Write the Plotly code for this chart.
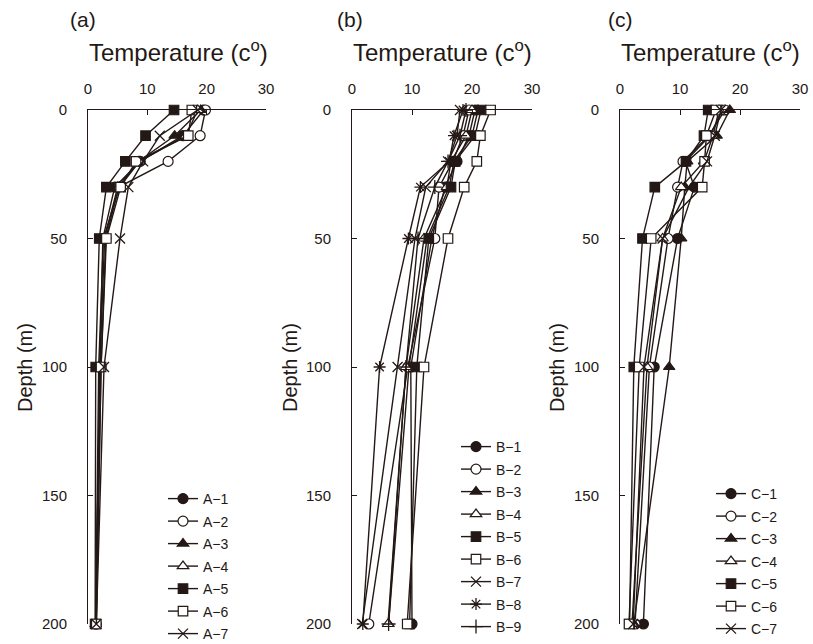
import plotly.graph_objects as go

# Sampling depths (m), shared by every station profile
depths = [0, 10, 20, 30, 50, 100, 200]

# Area (a): water temperature (°C) at each depth
a_names = ["A−1", "A−2", "A−3", "A−4", "A−5", "A−6", "A−7"]
a_1 = [19.5, 16.0, 8.8, 4.5, 2.5, 2.0, 1.3]
a_2 = [19.8, 18.9, 13.5, 5.2, 3.0, 2.2, 1.4]
a_3 = [19.0, 14.6, 8.5, 5.0, 2.8, 2.0, 1.3]
a_4 = [18.5, 16.5, 8.7, 5.3, 2.6, 1.8, 1.3]
a_5 = [14.5, 9.7, 6.3, 3.1, 1.9, 1.3, 1.2]
a_6 = [17.5, 16.9, 8.1, 5.5, 3.1, 2.2, 1.4]
a_7 = [18.5, 12.1, 9.3, 6.8, 5.4, 2.7, 1.4]

# Area (b)
b_names = ["B−1", "B−2", "B−3", "B−4", "B−5", "B−6", "B−7", "B−8", "B−9"]
b_1 = [20.5, 19.5, 17.5, 15.5, 13.3, 9.8, 10.0]
b_2 = [19.5, 18.5, 16.8, 14.5, 13.8, 9.3, 2.8]
b_3 = [21.0, 20.0, 17.0, 16.2, 12.5, 9.5, 6.1]
b_4 = [20.0, 19.0, 16.5, 15.8, 12.0, 9.0, 6.0]
b_5 = [21.5, 20.5, 17.2, 16.5, 12.8, 10.8, 9.6]
b_6 = [23.1, 21.4, 20.8, 18.7, 16.0, 12.0, 9.2]
b_7 = [18.0, 17.5, 16.0, 12.3, 10.5, 7.6, 1.7]
b_8 = [18.5, 17.0, 16.2, 11.4, 9.4, 4.6, 1.8]
b_9 = [19.0, 18.0, 16.0, 13.8, 11.0, 9.0, 6.1]

# Area (c)
c_names = ["C−1", "C−2", "C−3", "C−4", "C−5", "C−6", "C−7"]
c_1 = [17.0, 15.0, 10.9, 12.4, 9.6, 5.7, 3.9]
c_2 = [17.5, 14.8, 10.5, 9.6, 8.0, 4.9, 2.5]
c_3 = [18.3, 16.1, 11.2, 10.8, 10.2, 8.2, 2.3]
c_4 = [16.5, 15.5, 14.0, 10.2, 7.1, 4.5, 2.0]
c_5 = [14.7, 14.0, 11.0, 5.8, 3.75, 2.3, 1.6]
c_6 = [16.0, 14.4, 14.1, 13.7, 5.2, 3.2, 1.5]
c_7 = [16.8, 15.8, 14.5, 11.5, 7.1, 4.0, 2.2]

INK = "#231815"
FONT = "Liberation Sans, Arial, sans-serif"

# marker style per station index: (symbol, filled)
styles = [
    ("circle", True),
    ("circle", False),
    ("triangle-up", True),
    ("triangle-up", False),
    ("square", True),
    ("square", False),
    ("x-thin-open", None),
    ("asterisk-open", None),
    ("cross-thin-open", None),
]

panels = [
    (a_names, [a_1, a_2, a_3, a_4, a_5, a_6, a_7], "x", "y", "legend"),
    (b_names, [b_1, b_2, b_3, b_4, b_5, b_6, b_7, b_8, b_9], "x2", "y2", "legend2"),
    (c_names, [c_1, c_2, c_3, c_4, c_5, c_6, c_7], "x3", "y3", "legend3"),
]

fig = go.Figure()
for names, series, xa, ya, lg in panels:
    for i, (name, temps) in enumerate(zip(names, series)):
        sym, filled = styles[i]
        if filled is None:
            marker = dict(symbol=sym, size=10, color=INK, line=dict(color=INK, width=1.3))
        else:
            marker = dict(symbol=sym, size=9.5 if "square" in sym else 10,
                          color=INK if filled else "white",
                          line=dict(color=INK, width=1.2))
        fig.add_trace(go.Scatter(
            x=temps, y=depths, name=name, mode="lines+markers",
            line=dict(color=INK, width=1.4), marker=marker,
            xaxis=xa, yaxis=ya, legend=lg, legendgroup=name,
            cliponaxis=False,
        ))

W, H = 813, 644
x_domains = [(88, 266), (352, 532), (620, 800)]
y_domain = [1 - 624 / H, 1 - 110 / H]

axis_common = dict(
    showline=True, linecolor=INK, linewidth=1, showgrid=False, zeroline=False,
    ticks="inside", ticklen=5, tickcolor=INK, tickwidth=1,
    tickfont=dict(family=FONT, size=15, color=INK),
)

layout = dict(
    width=W, height=H,
    margin=dict(l=0, r=0, t=0, b=0, autoexpand=False),
    paper_bgcolor="white", plot_bgcolor="white",
    font=dict(family=FONT, color=INK),
)
for k, (x0, x1) in enumerate(x_domains):
    sfx = "" if k == 0 else str(k + 1)
    layout["xaxis" + sfx] = dict(
        axis_common, domain=[x0 / W, x1 / W], range=[0, 30], dtick=10,
        side="top", anchor="y" + sfx, ticklabelstandoff=9,
    )
    layout["yaxis" + sfx] = dict(
        axis_common, domain=y_domain, range=[200, 0],
        tickvals=[0, 50, 100, 150, 200], anchor="x" + sfx, ticklabelstandoff=17,
    )

legend_pos = [(163, 483), (456, 431), (711, 478)]
for k, (lx, ly) in enumerate(legend_pos):
    key = "legend" if k == 0 else "legend" + str(k + 1)
    layout[key] = dict(
        x=lx / W, y=1 - ly / H, xanchor="left", yanchor="top",
        bgcolor="rgba(0,0,0,0)", borderwidth=0, tracegroupgap=1.3,
        font=dict(family=FONT, size=14, color=INK), itemwidth=30,
    )

fig.update_layout(**layout)

# Panel letters, axis titles
ann = []
for letter, cx, tx, dx in [("(a)", 83, 178, 25), ("(b)", 350, 443, 290), ("(c)", 620, 710, 557)]:
    ann.append(dict(text=letter, x=cx / W, y=1 - 20 / H, xref="paper", yref="paper",
                    xanchor="center", yanchor="middle", showarrow=False,
                    font=dict(family=FONT, size=21, color=INK)))
    ann.append(dict(text="Temperature (c<sup>o</sup>)", x=tx / W, y=1 - 51 / H,
                    xref="paper", yref="paper", xanchor="center", yanchor="middle",
                    showarrow=False, font=dict(family=FONT, size=24, color=INK)))
    ann.append(dict(text="Depth (m)", x=dx / W, y=1 - 368 / H, xref="paper", yref="paper",
                    xanchor="center", yanchor="middle", showarrow=False, textangle=-90,
                    font=dict(family=FONT, size=20, color=INK)))
fig.update_layout(annotations=ann)

fig.write_html("out.html")
